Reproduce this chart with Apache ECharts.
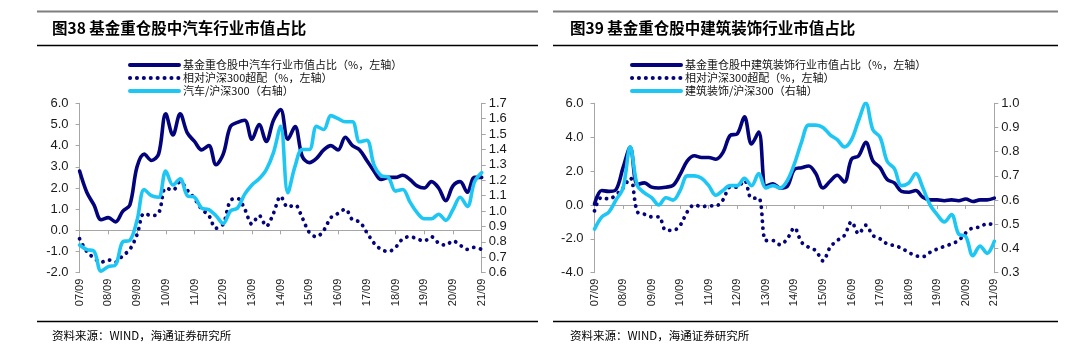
<!DOCTYPE html>
<html><head><meta charset="utf-8">
<script src="https://cdn.jsdelivr.net/npm/echarts@6/dist/echarts.min.js"></script>
<style>html,body{margin:0;padding:0;background:#fff}#c{width:1080px;height:357px}</style>
</head><body><div id="c"></div>
<script>
// ---------- data ----------
const categories = ["07/09","07/12","08/03","08/06","08/09","08/12","09/03","09/06","09/09","09/12","10/03","10/06","10/09","10/12","11/03","11/06","11/09","11/12","12/03","12/06","12/09","12/12","13/03","13/06","13/09","13/12","14/03","14/06","14/09","14/12","15/03","15/06","15/09","15/12","16/03","16/06","16/09","16/12","17/03","17/06","17/09","17/12","18/03","18/06","18/09","18/12","19/03","19/06","19/09","19/12","20/03","20/06","20/09","20/12","21/03","21/06","21/09"];

// Chart 38: auto
const autoHolding = [2.8,1.8,1.2,0.5,0.6,0.4,0.9,1.2,3.0,3.6,3.3,3.6,5.5,4.5,5.5,4.6,4.2,3.8,4.0,3.1,3.6,4.9,5.1,5.2,4.3,5.0,4.2,5.2,5.7,4.3,4.9,3.5,3.2,3.4,3.8,4.0,3.8,4.4,4.0,3.8,3.3,2.8,2.4,2.5,2.5,2.6,2.4,2.1,2.0,2.3,2.0,1.4,2.1,2.3,1.8,2.5,2.5];
const autoExcess = [-0.4,-1.0,-1.3,-1.5,-1.4,-1.5,-1.2,-0.9,-0.2,0.8,0.7,0.8,2.0,1.9,2.3,1.9,1.5,1.0,0.7,0.1,0.3,1.4,1.5,1.0,0.3,0.7,0.2,0.8,1.6,1.1,1.2,0.6,-0.1,-0.3,0.0,0.6,0.8,1.0,0.5,0.4,-0.1,-0.6,-0.9,-1.0,-0.8,-0.4,-0.3,-0.4,-0.5,-0.3,-0.6,-0.7,-0.5,-0.7,-0.9,-0.8,-0.9];
const autoRatio = [0.78,0.75,0.74,0.61,0.64,0.65,0.80,0.81,0.94,1.14,1.10,1.09,1.26,1.17,1.21,1.10,1.09,1.02,1.01,0.97,0.92,1.00,1.02,1.11,1.17,1.21,1.27,1.38,1.55,1.12,1.29,1.40,1.40,1.55,1.53,1.62,1.60,1.58,1.58,1.45,1.46,1.30,1.23,1.22,1.13,1.14,1.06,0.99,0.95,0.95,0.98,0.94,1.01,1.09,1.03,1.19,1.25];

// Chart 39: building decoration
const buildHolding = [0.05,0.85,0.8,0.9,2.2,3.4,1.2,1.3,1.05,1.0,1.05,1.15,1.8,2.6,2.9,2.8,2.8,2.7,3.1,4.1,4.2,5.2,3.6,4.3,1.1,1.25,1.0,1.1,2.1,2.2,2.3,1.85,1.0,1.4,1.75,1.35,2.7,2.9,3.7,2.6,2.2,1.5,1.3,0.8,0.75,0.85,0.45,0.3,0.3,0.25,0.3,0.25,0.35,0.2,0.3,0.3,0.4];
const buildExcess = [-0.35,0.45,0.35,0.6,1.0,1.6,-0.4,-0.55,-0.7,-0.7,-1.5,-1.5,-1.2,-0.4,0.0,-0.1,-0.05,-0.05,0.3,1.05,1.05,1.45,0.4,0.4,-2.1,-2.1,-2.35,-2.0,-1.35,-2.2,-2.5,-2.7,-3.3,-2.5,-2.1,-1.8,-1.0,-1.7,-1.2,-1.8,-2.0,-2.3,-2.4,-2.55,-2.8,-3.0,-3.05,-2.8,-2.6,-2.45,-2.3,-2.1,-1.65,-1.35,-1.3,-1.1,-1.2];
const buildRatio = [0.48,0.53,0.55,0.60,0.65,0.82,0.66,0.63,0.61,0.58,0.61,0.60,0.64,0.70,0.70,0.69,0.66,0.62,0.64,0.66,0.66,0.69,0.66,0.71,0.65,0.66,0.65,0.68,0.75,0.84,0.91,0.91,0.90,0.87,0.85,0.82,0.85,0.93,1.00,0.89,0.86,0.76,0.73,0.66,0.67,0.71,0.65,0.58,0.54,0.51,0.54,0.46,0.45,0.37,0.41,0.38,0.43];

const titles = ["图38 基金重仓股中汽车行业市值占比", "图39 基金重仓股中建筑装饰行业市值占比"];
const namesA = ["基金重仓股中汽车行业市值占比（%，左轴）", "相对沪深300超配（%，左轴）", "汽车/沪深300（右轴）"];
const namesB = ["基金重仓股中建筑装饰行业市值占比（%，左轴）", "相对沪深300超配（%，左轴）\u200b", "建筑装饰/沪深300（右轴）"];
const sourceText = "资料来源：WIND，海通证券研究所";
const leftAxisA = {min: -2, max: 6, interval: 1};
const rightAxisA = {min: 0.6, max: 1.7, interval: 0.1};
const leftAxisB = {min: -4, max: 6, interval: 2};
const rightAxisB = {min: 0.3, max: 1.0, interval: 0.1};

// ---------- styles ----------
const NAVY = '#03037c', CYAN = '#1ec6f4', AXIS = '#a6a6a6';
const FONT = 'Liberation Sans, Arial, sans-serif';
const CJK = '"Noto Sans CJK SC", sans-serif';
const GRID_TOP = 103.3, GRID_H = 169.4;
const panels = [
  {gridLeft: 79.6, gridW: 402.1, x0: 37, x1: 538, titleX: 47},
  {gridLeft: 594.5, gridW: 399.8, x0: 553, x1: 1058, titleX: 565}
];

const chart = echarts.init(document.getElementById('c'), null, {renderer: 'canvas'});

function yAxis(gi, range, pos) {
  return Object.assign({
    type: 'value', gridIndex: gi, position: pos,
    splitLine: {show: false},
    axisLine: {show: true, lineStyle: {color: AXIS, width: 1}},
    axisTick: {show: true, length: 4, lineStyle: {color: AXIS}},
    axisLabel: {color: '#1a1a1a', fontSize: 13, fontFamily: FONT, margin: pos === 'left' ? 11 : 7,
      formatter: v => (Math.round(v * 10) / 10).toFixed(1)}
  }, range);
}
function xLabelAxis(gi) {
  return {
    type: 'category', gridIndex: gi, data: categories, boundaryGap: false, position: 'bottom',
    axisLine: {show: false, onZero: false}, axisTick: {show: false}, splitLine: {show: false},
    axisLabel: {interval: 3, rotate: 90, fontSize: 11, fontFamily: FONT, color: '#1a1a1a', margin: 6}
  };
}
function xZeroAxis(gi) {
  return {
    type: 'category', gridIndex: gi, data: categories, boundaryGap: false, position: 'bottom',
    axisLine: {show: true, onZero: true, lineStyle: {color: AXIS, width: 1}},
    axisTick: {show: true, interval: 3, length: 4, lineStyle: {color: AXIS}},
    axisLabel: {show: false}, splitLine: {show: false}
  };
}
function lineSeries(name, data, xi, yi, color, dotted) {
  return {
    name, type: 'line', data, xAxisIndex: xi, yAxisIndex: yi,
    smooth: 0.35, symbol: 'none', showSymbol: false, silent: true, animation: false,
    itemStyle: {color},
    lineStyle: dotted ? {color, width: 3.8, type: [0.1, 6.8], cap: 'round'} : {color, width: 3.6, cap: 'round', join: 'round'}
  };
}

const graphics = [];
panels.forEach(p => {
  graphics.push({type: 'line', shape: {x1: p.x0, y1: 11.5, x2: p.x1, y2: 11.5}, style: {stroke: '#7f7f7f', lineWidth: 2}, silent: true});
  graphics.push({type: 'line', shape: {x1: p.x0, y1: 45.5, x2: p.x1, y2: 45.5}, style: {stroke: '#000', lineWidth: 1.5}, silent: true});
  graphics.push({type: 'line', shape: {x1: p.x0, y1: 321.5, x2: p.x1, y2: 321.5}, style: {stroke: '#000', lineWidth: 1.5}, silent: true});
});

const legendCommon = {
  orient: 'vertical', top: 54, itemWidth: 49, itemHeight: 10, itemGap: 1,
  selectedMode: false, itemStyle: {opacity: 0, borderWidth: 0},
  lineStyle: {width: 4},
  textStyle: {fontSize: 11, lineHeight: 12, color: '#111', fontFamily: CJK, padding: [0, 0, 0, -1]}
};

const option = {
  backgroundColor: '#fff',
  animation: false,
  title: [
    {text: titles[0], left: panels[0].titleX, top: 15, textStyle: {fontSize: 15.5, fontWeight: 'bold', color: '#000', fontFamily: CJK}},
    {text: titles[1], left: panels[1].titleX, top: 15, textStyle: {fontSize: 15.5, fontWeight: 'bold', color: '#000', fontFamily: CJK}},
    {text: sourceText, left: panels[0].titleX, top: 325, textStyle: {fontSize: 11.5, fontWeight: 'normal', color: '#000', fontFamily: CJK}},
    {text: sourceText, left: panels[1].titleX, top: 325, textStyle: {fontSize: 11.5, fontWeight: 'normal', color: '#000', fontFamily: CJK}}
  ],
  legend: [
    Object.assign({data: namesA, left: 123}, legendCommon),
    Object.assign({data: namesB, left: 625}, legendCommon)
  ],
  grid: panels.map(p => ({left: p.gridLeft, top: GRID_TOP, width: p.gridW, height: GRID_H, containLabel: false, outerBoundsMode: 'none'})),
  xAxis: [xLabelAxis(0), xZeroAxis(0), xLabelAxis(1), xZeroAxis(1)],
  yAxis: [yAxis(0, leftAxisA, 'left'), yAxis(0, rightAxisA, 'right'), yAxis(1, leftAxisB, 'left'), yAxis(1, rightAxisB, 'right')],
  series: [
    lineSeries(namesA[0], autoHolding, 0, 0, NAVY, false),
    lineSeries(namesA[1], autoExcess, 0, 0, NAVY, true),
    lineSeries(namesA[2], autoRatio, 0, 1, CYAN, false),
    lineSeries(namesB[0], buildHolding, 2, 2, NAVY, false),
    lineSeries(namesB[1], buildExcess, 2, 2, NAVY, true),
    lineSeries(namesB[2], buildRatio, 2, 3, CYAN, false)
  ],
  graphic: graphics
};
chart.setOption(option);
</script></body></html>
